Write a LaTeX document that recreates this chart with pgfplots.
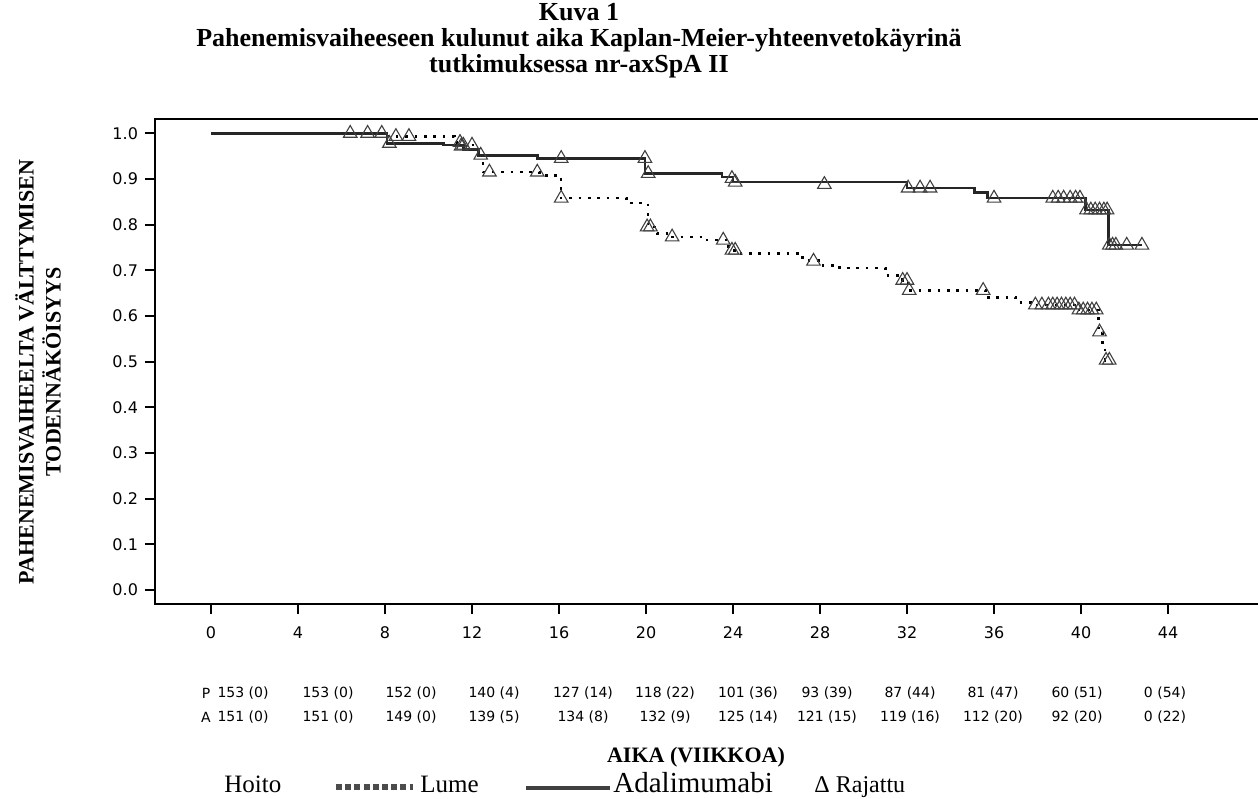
\documentclass[border=0pt]{standalone}
\usepackage{fontspec}
\setmainfont{Liberation Serif}
\newfontfamily\dejavu{DejaVu Sans}
\usepackage{pgfplots}
\pgfplotsset{compat=1.18}

\begin{document}
\begin{tikzpicture}
\useasboundingbox (0,0) rectangle (629pt,-399pt);
\begin{axis}[
  at={(77.5pt,-302pt)}, anchor=south west,
  scale only axis, width=553.5pt, height=242.5pt,
  xmin=-2.575, xmax=48.32, ymin=-0.0307, ymax=1.0313,
  xtick={0,4,8,12,16,20,24,28,32,36,40,44},
  ytick={0,0.1,0.2,0.3,0.4,0.5,0.6,0.7,0.8,0.9,1},
  xtick pos=bottom, ytick pos=left,
  tick align=outside, major tick length=5pt,
  axis line style={line width=1.3pt},
  tick style={line width=1pt, black},
  /pgf/number format/assume math mode=true,
  tick label style={font=\dejavu\fontsize{8}{9}\selectfont},
  yticklabel style={/pgf/number format/.cd, fixed, fixed zerofill, precision=1},
  xticklabel style={yshift=-3pt},
  clip=false,
]
% Lume (placebo)
\addplot[const plot, black, line width=1.3pt, dash pattern=on 1.3pt off 3.4pt] coordinates {
(0,1.0) (8.1,0.993) (11.2,0.980) (11.55,0.974) (12.25,0.952) (12.5,0.915)
(15.1,0.908) (16.1,0.858) (19.1,0.847) (20.1,0.795) (20.5,0.781) (21.1,0.773)
(22.8,0.766) (23.8,0.744) (24.2,0.737) (27.2,0.722) (28.0,0.711) (28.9,0.705)
(31.0,0.689) (31.8,0.678) (32.05,0.656) (35.6,0.641) (37.0,0.630) (37.8,0.624)
(39.9,0.613) (40.8,0.565) (41.0,0.532) (41.1,0.503) (41.35,0.503)};
% Adalimumabi
\addplot[const plot, black!85, line width=1.3pt] coordinates {
(0,1.0) (8.1,0.978) (10.7,0.974) (11.6,0.965) (12.3,0.952) (15.0,0.945)
(19.95,0.912) (23.5,0.904) (24.0,0.893) (32.0,0.880) (35.1,0.871) (35.7,0.858)
(40.2,0.832) (41.25,0.755) (42.8,0.755)};
% censored, Lume
\addplot[only marks, mark=triangle, mark size=3.9pt, mark options={draw=black!75, line width=0.55pt, fill=none}] coordinates {
(6.4,1.0) (7.2,1.0) (7.85,1.0) (8.5,0.993) (9.1,0.993) (11.45,0.98) (11.6,0.974)
(12.0,0.974) (12.8,0.915) (15.0,0.915) (16.1,0.858) (20.05,0.795) (20.2,0.795)
(21.2,0.773) (23.55,0.766) (23.95,0.744) (24.1,0.744) (27.7,0.72) (31.8,0.678)
(32.0,0.678) (32.1,0.656) (35.5,0.656) (37.9,0.624) (38.2,0.624) (38.5,0.624)
(38.7,0.624) (38.9,0.624) (39.1,0.624) (39.3,0.624) (39.5,0.624) (39.7,0.624)
(39.9,0.613) (40.1,0.613) (40.3,0.613) (40.5,0.613) (40.7,0.613) (40.85,0.565)
(41.15,0.503) (41.3,0.503)};
% censored, Adalimumabi
\addplot[only marks, mark=triangle, mark size=3.9pt, mark options={draw=black!75, line width=0.55pt, fill=none}] coordinates {
(8.2,0.978) (11.5,0.972) (12.4,0.952) (16.1,0.945) (19.95,0.945) (20.1,0.912)
(23.95,0.901) (24.1,0.893) (28.2,0.888) (32.05,0.88) (32.6,0.88) (33.06,0.88)
(36.0,0.858) (38.7,0.858) (38.95,0.858) (39.2,0.858) (39.5,0.858) (39.75,0.858)
(39.95,0.858) (40.25,0.832) (40.45,0.832) (40.65,0.832) (40.85,0.832) (41.05,0.832)
(41.2,0.832) (41.3,0.755) (41.45,0.755) (41.6,0.755) (42.1,0.755) (42.8,0.755)};
\end{axis}

\begin{scope}[x=0.5pt,y=-0.5pt]
% title
\node[align=center, font=\bfseries\fontsize{13}{13}\selectfont] at (579,41)
  {Kuva 1\\Pahenemisvaiheeseen kulunut aika Kaplan-Meier-yhteenvetokäyrinä\\tutkimuksessa nr-axSpA II};
% y label
\node[rotate=90, align=center, font=\bfseries\fontsize{11}{13.5}\selectfont] at (38,372)
  {PAHENEMISVAIHEELTA VÄLTTYMISEN\\TODENNÄKÖISYYS};
% risk table
\begin{scope}[every node/.style={font=\dejavu\fontsize{7}{8}\selectfont, inner sep=0pt}]
\node at (206,693) {P};
\node at (206,717) {A};
\node at (243,693) {153 (0)};  \node at (243,717) {151 (0)};
\node at (328,693) {153 (0)};  \node at (328,717) {151 (0)};
\node at (411,693) {152 (0)};  \node at (411,717) {149 (0)};
\node at (494,693) {140 (4)};  \node at (494,717) {139 (5)};
\node at (583,693) {127 (14)}; \node at (583,717) {134 (8)};
\node at (665,693) {118 (22)}; \node at (665,717) {132 (9)};
\node at (748,693) {101 (36)}; \node at (748,717) {125 (14)};
\node at (827,693) {93 (39)};  \node at (827,717) {121 (15)};
\node at (910,693) {87 (44)};  \node at (910,717) {119 (16)};
\node at (993,693) {81 (47)};  \node at (993,717) {112 (20)};
\node at (1077,693) {60 (51)}; \node at (1077,717) {92 (20)};
\node at (1165,693) {0 (54)};  \node at (1165,717) {0 (22)};
\end{scope}
% x label
\node[font=\bfseries\fontsize{11}{13}\selectfont] at (696,757) {AIKA (VIIKKOA)};
% legend
\node[anchor=base west, inner sep=0pt, font=\fontsize{12.5}{14}\selectfont] at (224,792) {Hoito};
\draw[black!70, line width=3pt, dash pattern=on 3pt off 1.6pt] (336,787) -- (413,787);
\node[anchor=base west, inner sep=0pt, font=\fontsize{12.5}{14}\selectfont] at (420,792) {Lume};
\draw[black!75, line width=2pt] (526,788) -- (610,788);
\node[anchor=base west, inner sep=0pt, font=\fontsize{14.5}{16}\selectfont] at (613,792) {Adalimumabi};
\node[anchor=base west, inner sep=0pt, font=\fontsize{12}{14}\selectfont] at (814,792) {Δ Rajattu};
\end{scope}
\end{tikzpicture}
\end{document}
